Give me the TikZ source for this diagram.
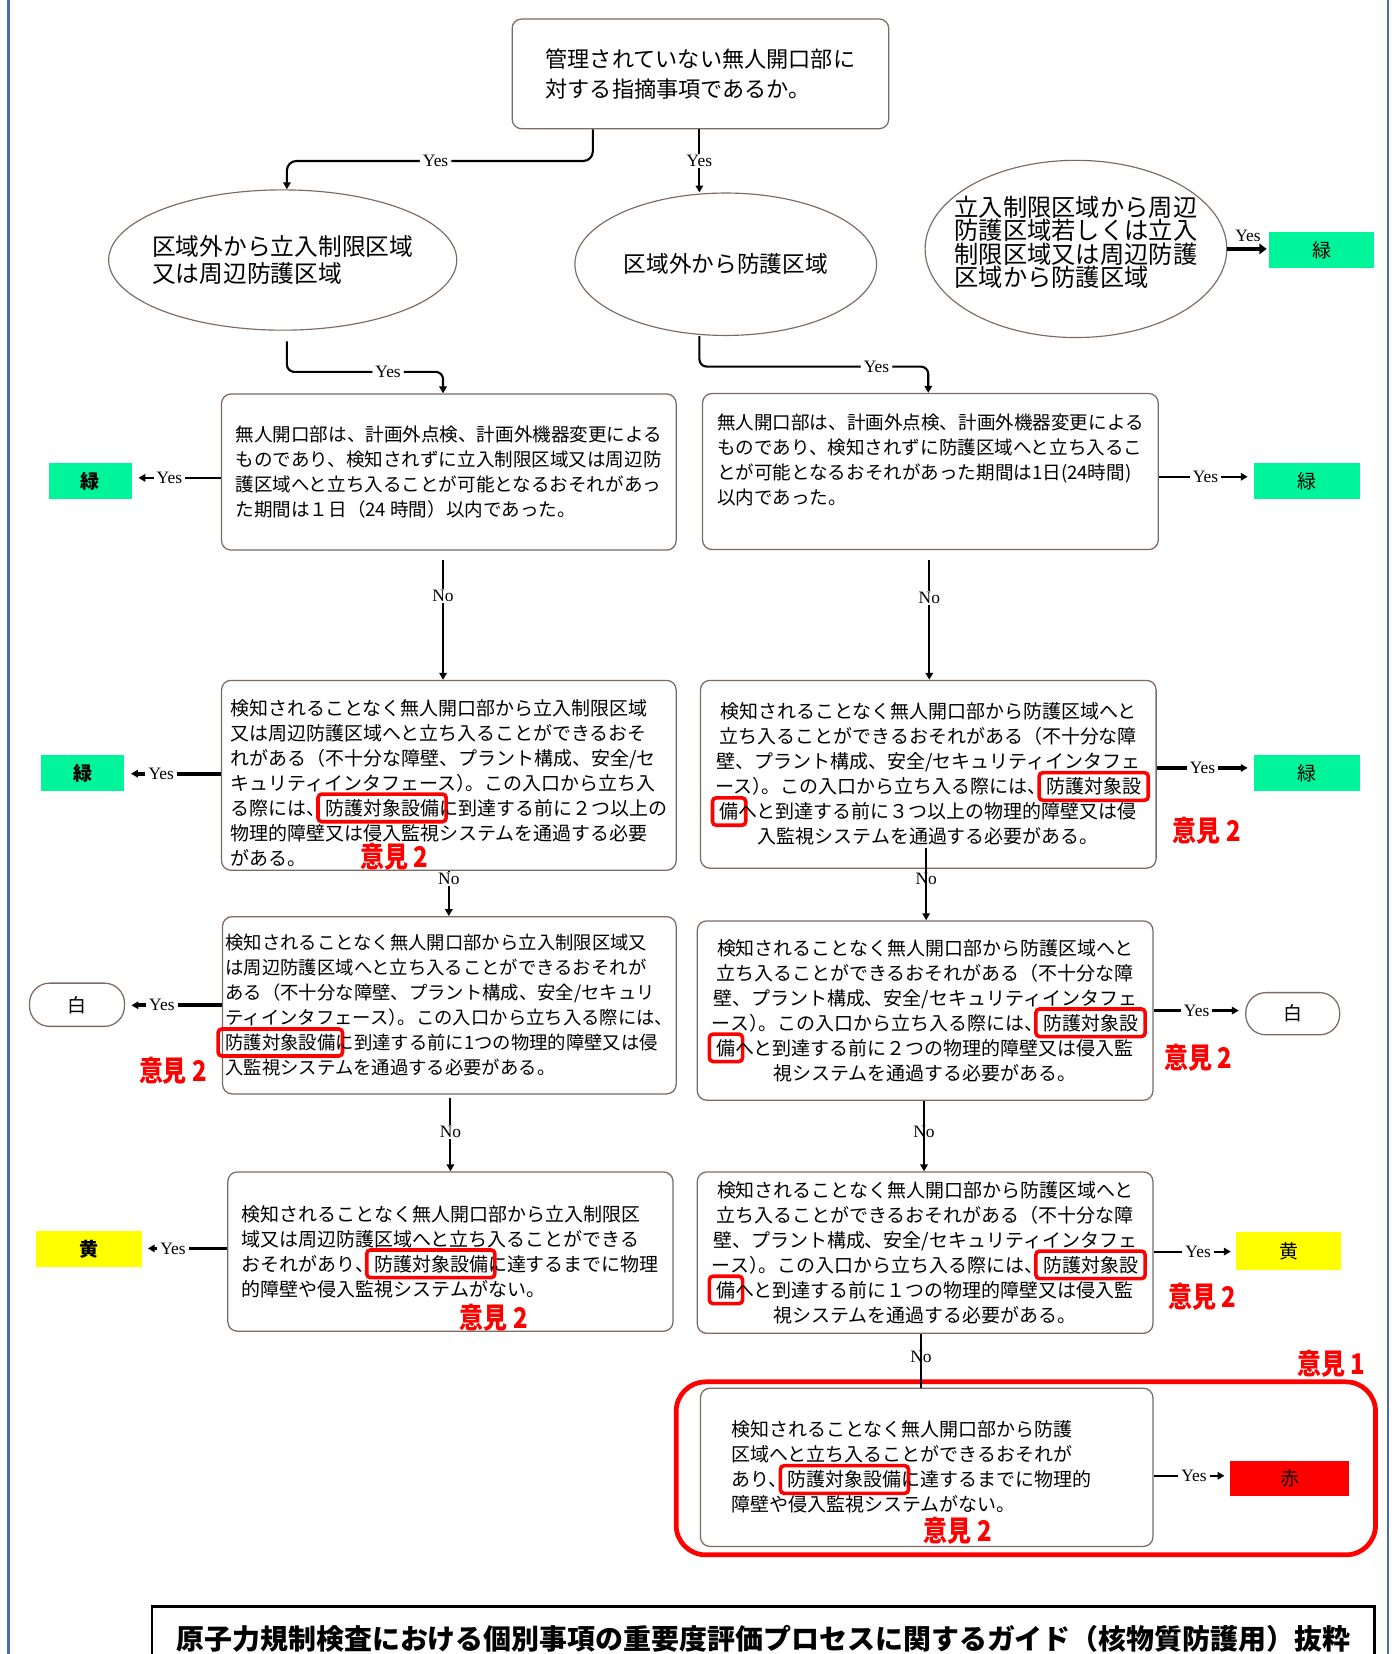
\documentclass[tikz,border=0pt]{standalone}
\usepackage{fontspec}
\usetikzlibrary{arrows.meta,shapes.geometric}
\newfontfamily\jp{Noto Sans CJK JP}
\newfontfamily\jpnote[FakeStretch=0.84]{Noto Sans CJK JP}
\newfontfamily\lat{Liberation Serif}

\definecolor{boxline}{HTML}{7D6B62}
\definecolor{pageblue}{HTML}{4A6DA7}
\definecolor{grn}{HTML}{00F59B}
\definecolor{ylw}{HTML}{FFFF00}
\definecolor{hlred}{HTML}{FF0000}

% red rounded frame around a word, drawn over the running text
\newcommand\hlword[1]{\tikz[baseline=(hw.base)]{\node[rectangle,draw=none,fill=none,inner sep=0pt,outer sep=0pt,minimum width=0pt,minimum height=0pt,sharp corners,align=none](hw){#1};\draw[draw=hlred,line width=3.4pt,rounded corners=3.5pt,overlay]([xshift=-7pt,yshift=-4.5pt]hw.south west) rectangle ([xshift=6.5pt,yshift=5pt]hw.north east);}}
% compressed closing bracket before a full stop
\newcommand\kc{）\kern-0.5em}

\tikzset{
  flowbox/.style={rectangle, draw=boxline, line width=1.2pt, rounded corners=9pt, fill=white, inner sep=0pt},
  jtext/.style={font=\jp\fontsize{#1}{23.7}\selectfont},
  oval/.style={ellipse, draw=boxline, line width=1.1pt, fill=white, inner xsep=-30pt, inner ysep=0pt},
  gradebox/.style={rectangle, draw=none, inner sep=0pt, minimum width=#1, minimum height=34pt, font=\jp\fontsize{18}{20}\selectfont},
  pill/.style={rectangle, draw=boxline, line width=1.2pt, rounded corners=19pt, fill=white, inner sep=0pt, minimum width=90pt, minimum height=41pt, font=\jp\fontsize{18}{20}\selectfont},
  conn/.style={draw=black, line width=2pt},
  thickconn/.style={draw=black, line width=3.4pt},
  tip/.style={-{Triangle[width=7pt,length=6.5pt]}},
  yeslbl/.style={font=\lat\fontsize{16.5}{18}\selectfont, fill=white, inner xsep=3pt, inner ysep=1pt},
  note/.style={font=\jpnote\bfseries\fontsize{27}{29}\selectfont, text=hlred, inner sep=0pt},
}

\begin{document}
\begin{tikzpicture}[x=1pt,y=-1pt]
\useasboundingbox (0,0) rectangle (1326,1568);
\fill[white] (0,0) rectangle (1326,1568);
% page frame
\draw[pageblue, line width=2.2pt] (8,0) -- (8,1568);
\draw[pageblue, line width=2.2pt] (1316,0) -- (1316,1568);

% question box
\node[flowbox, minimum width=357pt, minimum height=104pt, font=\jp\fontsize{21}{28}\selectfont, align=left] (T) at (664,70)
  {管理されていない無人開口部に\\対する指摘事項であるか。};

% area ovals
\node[oval, minimum width=330pt, minimum height=133pt, font=\jp\fontsize{22.5}{25}\selectfont, align=left] (E1) at (268,246.5)
  {区域外から立入制限区域\\又は周辺防護区域};
\node[oval, minimum width=286pt, minimum height=135pt, font=\jp\fontsize{21.5}{25}\selectfont] (E2) at (688,250.5)
  {区域外から防護区域};
\node[oval, minimum width=286pt, minimum height=168pt, font=\jp\fontsize{23}{20.5}\selectfont, align=left] (E3) at (1020,236)
  {立入制限区域から周辺\\防護区域若しくは立入\\制限区域又は周辺防護\\区域から防護区域\\[-6pt]\mbox{}};
\node[gradebox=100pt, fill=grn] (G0) at (1253,237) {緑};

% first level
\node[flowbox, minimum width=431pt, minimum height=148pt, jtext=17.6, align=left] (L1) at (425.5,447.5)
  {無人開口部は、計画外点検、計画外機器変更による\\
   ものであり、検知されずに立入制限区域又は周辺防\\
   護区域へと立ち入ることが可能となるおそれがあっ\\
   た期間は１日（24 時間）以内であった。};
\node[flowbox, minimum width=432pt, minimum height=148pt, jtext=17.6, align=left] (R1) at (882,447)
  {無人開口部は、計画外点検、計画外機器変更による\\
   ものであり、検知されずに防護区域へと立ち入るこ\\
   とが可能となるおそれがあった期間は1日(24時間)\\
   以内であった。\\ \mbox{}};
\node[gradebox=79pt, fill=grn, font=\jp\bfseries\fontsize{18}{20}\selectfont] (GL1) at (85.5,456) {緑};
\node[gradebox=100pt, fill=grn] (GR1) at (1239,456) {緑};

% second level
\node[flowbox, minimum width=431pt, minimum height=180pt, jtext=18, align=left] (L2) at (425.5,735)
  {\mbox{}\\[6pt]
   検知されることなく無人開口部から立入制限区域\\
   又は周辺防護区域へと立ち入ることができるおそ\\
   れがある（不十分な障壁、プラント構成、安全/セ\\
   キュリティインタフェース\kc。この入口から立ち入\\
   る際には、\hlword{防護対象設備}に到達する前に２つ以上の\\
   物理的障壁又は侵入監視システムを通過する必要\\
   がある。};
\node[flowbox, minimum width=432pt, minimum height=178pt, jtext=18, align=center] (R2) at (880,734)
  {検知されることなく無人開口部から防護区域へと\\
   立ち入ることができるおそれがある（不十分な障\\
   壁、プラント構成、安全/セキュリティインタフェ\\
   ース\kc。この入口から立ち入る際には、\hlword{防護対象設}\\
   \hlword{備}へと到達する前に３つ以上の物理的障壁又は侵\\
   入監視システムを通過する必要がある。};
\node[gradebox=79pt, fill=grn, font=\jp\bfseries\fontsize{18}{20}\selectfont] (GL2) at (78.5,733) {緑};
\node[gradebox=100pt, fill=grn] (GR2) at (1239,733) {緑};

% third level
\node[flowbox, minimum width=430pt, minimum height=168pt, jtext=17.4, align=left] (L3) at (426,953)
  {検知されることなく無人開口部から立入制限区域又\\
   は周辺防護区域へと立ち入ることができるおそれが\\
   ある（不十分な障壁、プラント構成、安全/セキュリ\\
   ティインタフェース\kc。この入口から立ち入る際には、\\
   \hlword{防護対象設備}に到達する前に1つの物理的障壁又は侵\\
   入監視システムを通過する必要がある。};
\node[flowbox, minimum width=432pt, minimum height=170pt, jtext=18, align=center] (R3) at (877,958)
  {検知されることなく無人開口部から防護区域へと\\
   立ち入ることができるおそれがある（不十分な障\\
   壁、プラント構成、安全/セキュリティインタフェ\\
   ース\kc。この入口から立ち入る際には、\hlword{防護対象設}\\
   \hlword{備}へと到達する前に２つの物理的障壁又は侵入監\\
   視システムを通過する必要がある。};
\node[pill] (WL3) at (73,952.5) {白};
\node[pill, minimum width=89pt, minimum height=40pt] (WR3) at (1225.5,961) {白};

% fourth level
\node[flowbox, minimum width=422pt, minimum height=151pt, jtext=18, align=left] (L4) at (427,1186.5)
  {検知されることなく無人開口部から立入制限区\\
   域又は周辺防護区域へと立ち入ることができる\\
   おそれがあり、\hlword{防護対象設備}に達するまでに物理\\
   的障壁や侵入監視システムがない。};
\node[flowbox, minimum width=432pt, minimum height=153pt, jtext=18, align=center] (R4) at (877,1187.5)
  {検知されることなく無人開口部から防護区域へと\\
   立ち入ることができるおそれがある（不十分な障\\
   壁、プラント構成、安全/セキュリティインタフェ\\
   ース\kc。この入口から立ち入る際には、\hlword{防護対象設}\\
   \hlword{備}へと到達する前に１つの物理的障壁又は侵入監\\
   視システムを通過する必要がある。};
\node[gradebox=101pt, fill=ylw, font=\jp\bfseries\fontsize{18}{20}\selectfont] (YL4) at (84.5,1184) {黄};
\node[gradebox=99pt, minimum height=36pt, fill=ylw] (YR4) at (1221.5,1186) {黄};

% last level inside the opinion frame
\node[draw=hlred, line width=4.5pt, rounded corners=28pt, minimum width=663pt, minimum height=164pt, inner sep=0pt] (OP1) at (972.5,1392) {};
\node[flowbox, minimum width=429pt, minimum height=150pt, jtext=18, align=left] (R5) at (878.5,1391)
  {検知されることなく無人開口部から防護\\
   区域へと立ち入ることができるおそれが\\
   \makebox[370pt][l]{あり、\hlword{防護対象設備}に達するまでに物理的}\\
   障壁や侵入監視システムがない。};
\node[gradebox=113pt, minimum height=33pt, fill=hlred] (RR5) at (1222.5,1401.5) {赤};

% connectors from the question
\draw[conn, tip, rounded corners=9pt] ([xshift=-102pt]T.south) -- ++(0,30) -| node[yeslbl, pos=0.257]{Yes} ([xshift=4pt]E1.north);
\draw[conn, tip] ([xshift=-1pt]T.south) -- node[yeslbl, pos=0.5]{Yes} ([xshift=-25pt]E2.north);
\coordinate (aE3) at (E3.east);
\draw[thickconn, -{Triangle[width=10pt,length=7pt]}, shorten >=2pt] (aE3) -- node[above=5pt, font=\lat\fontsize{16.5}{18}\selectfont, inner sep=0pt]{Yes} (aE3 -| G0.west);

% ovals to first level
\draw[conn, tip, rounded corners=7pt] ([xshift=4pt,yshift=-10pt]E1.south) -- ++(0,29) -| node[yeslbl, pos=0.324]{Yes} ([xshift=-5.5pt]L1.north);
\draw[conn, tip, rounded corners=7pt] ([xshift=-25pt]E2.south) -- ++(0,29) -| node[yeslbl, pos=0.387]{Yes} ([xshift=-2pt]R1.north);

% Yes branches to grades
\coordinate (aL1) at ([yshift=-5.5pt]L1.west);
\draw[conn, line width=2.4pt, tip, shorten >=6pt] (aL1) -- node[yeslbl, pos=0.58]{Yes} (aL1 -| GL1.east);
\coordinate (aR1) at ([yshift=-5pt]R1.east);
\draw[conn, tip, shorten >=6pt] (aR1) -- node[yeslbl, pos=0.49]{Yes} (aR1 -| GR1.west);
\coordinate (aL2) at ([yshift=1.5pt]L2.west);
\draw[thickconn, tip, shorten >=6pt] (aL2) -- node[yeslbl, pos=0.62]{Yes} (aL2 -| GL2.east);
\coordinate (aR2) at ([yshift=6pt]R2.east);
\draw[thickconn, tip, shorten >=6pt] (aR2) -- node[yeslbl, pos=0.47]{Yes} (aR2 -| GR2.west);
\coordinate (aL3) at (L3.west);
\draw[thickconn, tip, shorten >=6pt] (aL3) -- node[yeslbl, pos=0.62]{Yes} (aL3 -| WL3.east);
\coordinate (aR3) at (R3.east);
\draw[thickconn, tip, shorten >=6pt] (aR3) -- node[yeslbl, pos=0.47]{Yes} (aR3 -| WR3.west);
\coordinate (aL4) at ([yshift=3pt]L4.west);
\draw[thickconn, tip, shorten >=5pt] (aL4) -- node[yeslbl, pos=0.64]{Yes} (aL4 -| YL4.east);
\coordinate (aR4) at ([yshift=1pt]R4.east);
\draw[conn, tip, shorten >=5pt] (aR4) -- node[yeslbl, pos=0.54]{Yes} (aR4 -| YR4.west);
\coordinate (aR5) at ([yshift=-8pt]R5.east);
\draw[conn, tip, shorten >=5pt] (aR5) -- node[yeslbl, pos=0.53]{Yes} (aR5 -| RR5.west);

% No branches
\draw[conn, tip, shorten <=9pt] ([xshift=-5.5pt]L1.south) -- node[yeslbl, pos=0.35]{No} ([xshift=-5.5pt]L2.north);
\draw[conn, tip, shorten <=9pt] ([xshift=-1pt]R1.south) -- node[yeslbl, pos=0.37]{No} ([xshift=1pt]R2.north);
\draw[conn, tip] (L2.south) -- node[yeslbl, pos=0.18]{No} ([xshift=-0.5pt]L3.north);
\draw[conn, tip] ([xshift=-2pt,yshift=20pt]R2.south) -- node[yeslbl, behind path, pos=0.43]{No} ([xshift=1pt]R3.north);
\draw[conn, tip, shorten <=3pt] ([xshift=1pt]L3.south) -- node[yeslbl, pos=0.49]{No} (L4.north);
\draw[conn, tip] ([xshift=-1pt]R3.south) -- node[yeslbl, behind path, pos=0.44]{No} ([xshift=-1pt]R4.north);
\draw[conn] ([xshift=-4pt]R4.south) -- node[yeslbl, behind path, pos=0.43]{No} ([xshift=-5.5pt]R5.north);

% opinion notes
\node[note] (n2a) at (374,812) {意見 2};
\node[note] (n2b) at (1144,788) {意見 2};
\node[note] (n2c) at (164,1015) {意見 2};
\node[note] (n2d) at (1136,1003) {意見 2};
\node[note] (n2e) at (468,1249) {意見 2};
\node[note] (n2f) at (1140,1229) {意見 2};
\node[note] (n2g) at (908,1451) {意見 2};
\node[note] (n1) at (1262,1293) {意見 1};

% source caption
\node[draw=black, line width=2.4pt, minimum width=1159pt, minimum height=60pt, anchor=north west, inner sep=0pt, font=\jp\bfseries\fontsize{26.5}{30}\selectfont] (title) at (143,1522)
  {原子力規制検査における個別事項の重要度評価プロセスに関するガイド（核物質防護用）抜粋};
\end{tikzpicture}
\end{document}
